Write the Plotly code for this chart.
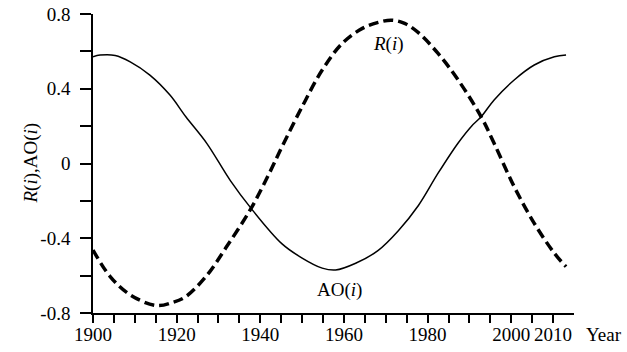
import plotly.graph_objects as go

# AO(i) series (solid)
ao_years = [1900, 1901.7, 1905.3, 1908.9, 1913.6, 1918.4, 1922.2, 1927.2, 1932.8, 1937.8,
            1945.2, 1950.0, 1954.8, 1958.0, 1962.8, 1968.2, 1973.0, 1977.8, 1982.5,
            1987.3, 1990.5, 1992.8, 1995.9, 2000.7, 2005.5, 2010.3, 2013.1]
ao_vals = [0.571, 0.58, 0.578, 0.544, 0.473, 0.366, 0.25, 0.108, -0.09, -0.24,
           -0.43, -0.506, -0.56, -0.57, -0.534, -0.465, -0.36, -0.225, -0.052,
           0.11, 0.20, 0.25, 0.34, 0.447, 0.527, 0.571, 0.58]

# R(i) series (dashed)
r_years = [1900, 1904.1, 1908.9, 1915.2, 1919.2, 1922.2, 1927.0, 1931.8, 1937.8, 1942.2,
           1945.2, 1950.0, 1954.8, 1959.6, 1964.4, 1968.2, 1971.4, 1974.5, 1977.8,
           1982.5, 1987.3, 1992.8, 1995.9, 2000.7, 2005.5, 2010.3, 2013.1]
r_vals = [-0.463, -0.605, -0.703, -0.76, -0.742, -0.712, -0.605, -0.45, -0.24, -0.05,
          0.09, 0.304, 0.5, 0.643, 0.723, 0.755, 0.767, 0.75, 0.70,
          0.589, 0.447, 0.25, 0.108, -0.124, -0.32, -0.48, -0.552]

x_tickvals = list(range(1900, 2011, 5))
x_labeled = [1900, 1920, 1940, 1960, 1980, 2000, 2010]
x_ticktext = [str(v) if v in x_labeled else "" for v in x_tickvals]

y_tickvals = [-0.8, -0.6, -0.4, -0.2, 0, 0.2, 0.4, 0.6, 0.8]
y_ticktext = ["-0.8", "", "-0.4", "", "0", "", "0.4", "", "0.8"]

FONT = "Liberation Serif, Times New Roman, serif"
FS = 19

fig = go.Figure()
fig.add_trace(go.Scatter(x=ao_years, y=ao_vals, mode="lines",
                         line=dict(color="black", width=1.5, shape="spline"),
                         showlegend=False))
fig.add_trace(go.Scatter(x=r_years, y=r_vals, mode="lines",
                         line=dict(color="black", width=3.5, dash="10px,5px", shape="spline"),
                         showlegend=False))

fig.update_layout(
    width=627, height=352,
    margin=dict(l=93, r=53, t=14, b=39),
    paper_bgcolor="white", plot_bgcolor="white",
    font=dict(family=FONT, size=FS, color="black"),
    xaxis=dict(range=[1900, 2015], showgrid=False, zeroline=False,
               showline=True, linecolor="black", linewidth=1.5,
               ticks="outside", ticklen=8, tickwidth=1.5, tickcolor="black",
               tickvals=x_tickvals, ticktext=x_ticktext, ticklabelstandoff=-5,
               tickangle=0, automargin=False,
               tickfont=dict(family=FONT, size=FS)),
    yaxis=dict(range=[-0.8, 0.8], showgrid=False, zeroline=False,
               showline=True, linecolor="black", linewidth=1.5,
               ticks="outside", ticklen=11, tickwidth=1.5, tickcolor="black",
               tickvals=y_tickvals, ticktext=y_ticktext, ticklabelstandoff=6,
               automargin=False,
               tickfont=dict(family=FONT, size=FS)),
    annotations=[
        dict(x=1970.6, y=0.64, xref="x", yref="y", text="<i>R</i>(<i>i</i>)",
             showarrow=False, font=dict(family=FONT, size=FS)),
        dict(x=1959, y=-0.675, xref="x", yref="y", text="AO(<i>i</i>)",
             showarrow=False, font=dict(family=FONT, size=FS)),
        dict(x=(604 - 93) / 481, y=(313 - 334) / 299, xref="paper", yref="paper",
             text="Year", showarrow=False, xanchor="center", yanchor="middle",
             font=dict(family=FONT, size=FS)),
        dict(x=(30 - 93) / 481, y=0.5, xref="paper", yref="paper",
             text="<i>R</i>(<i>i</i>),AO(<i>i</i>)", textangle=-90,
             showarrow=False, xanchor="center", yanchor="middle",
             font=dict(family=FONT, size=FS)),
    ],
)

fig.write_html("out.html", config={"displayModeBar": False},
               post_script="document.body.style.margin='0';")
